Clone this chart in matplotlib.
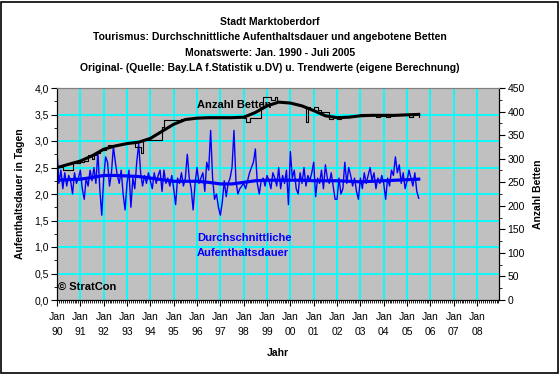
import numpy as np
import matplotlib
matplotlib.use("Agg")
import matplotlib.pyplot as plt
from matplotlib.ticker import MultipleLocator, FuncFormatter
from matplotlib.patches import Rectangle

plt.rcParams['font.family'] = ['Liberation Sans', 'DejaVu Sans']

# Monatswerte Jan. 1990 - Juli 2005
start_year = 1990
dauer = [
    2.80, 2.20, 2.45, 2.10, 2.40, 2.15, 2.35, 2.25, 2.00, 2.40, 2.20, 2.30,  # 1990
    2.45, 2.10, 1.90, 2.30, 2.15, 2.45, 2.25, 2.50, 2.20, 2.80, 2.10, 1.60,  # 1991
    2.30, 2.70, 2.60, 2.15, 2.40, 2.90, 2.60, 2.35, 2.20, 2.45, 2.00, 1.70,  # 1992
    2.20, 2.45, 1.75, 2.30, 2.10, 2.60, 2.95, 2.40, 2.15, 2.35, 2.20, 2.40,  # 1993
    2.25, 2.10, 2.40, 2.20, 2.35, 2.45, 2.05, 2.45, 2.20, 2.30, 2.15, 2.35,  # 1994
    2.10, 1.80, 2.30, 2.20, 2.40, 2.15, 2.30, 2.75, 2.30, 2.10, 1.70, 2.20,  # 1995
    2.50, 2.20, 2.30, 2.40, 2.05, 2.60, 2.45, 3.20, 2.30, 1.90, 2.00, 1.75,  # 1996
    1.60, 1.85, 2.25, 1.95, 2.20, 2.30, 2.50, 3.20, 2.25, 2.00, 2.10, 2.15,  # 1997
    2.20, 2.10, 2.25, 2.40, 2.50, 2.60, 2.85, 2.20, 2.00, 2.25, 2.30, 2.15,  # 1998
    2.35, 2.25, 2.10, 2.40, 2.30, 2.15, 2.50, 2.10, 2.35, 2.20, 2.45, 1.80,  # 1999
    2.80, 2.30, 2.45, 2.10, 2.00, 2.40, 2.20, 2.50, 2.15, 2.35, 2.25, 2.40,  # 2000
    2.60, 1.95, 2.30, 2.20, 2.45, 2.10, 2.55, 2.30, 2.20, 2.40, 2.15, 1.90,  # 2001
    1.90, 2.30, 2.00, 2.10, 2.60, 2.20, 2.50, 2.35, 2.15, 2.30, 2.05, 1.90,  # 2002
    2.30, 2.10, 2.40, 2.20, 2.35, 2.50, 2.25, 2.40, 2.10, 2.30, 2.20, 2.35,  # 2003
    2.20, 1.90, 2.30, 2.15, 2.45, 2.35, 2.70, 2.40, 2.55, 2.20, 2.40, 2.10,  # 2004
    2.25, 2.45, 2.30, 2.15, 2.40, 2.05, 1.92,                                # 2005
]
betten = [
    282, 282, 282, 276, 276, 276, 276, 276, 290, 290, 290, 290,  # 1990
    293, 293, 296, 296, 308, 308, 300, 308, 312, 312, 318, 318,  # 1991
    318, 322, 329, 329, 329, 329, 329, 329, 332, 332, 332, 332,  # 1992
    335, 335, 335, 335, 325, 325, 325, 311, 340, 340, 340, 340,  # 1993
    340, 340, 340, 340, 340, 340, 368, 382, 382, 382, 382, 382,  # 1994
    382, 382, 382, 382, 384, 384, 386, 386, 386, 386, 386, 386,  # 1995
    386, 386, 386, 386, 386, 386, 386, 386, 386, 386, 386, 386,  # 1996
    386, 386, 386, 386, 386, 386, 388, 388, 388, 388, 388, 388,  # 1997
    386, 378, 378, 386, 386, 386, 386, 386, 386, 407, 431, 431,  # 1998
    431, 431, 425, 425, 431, 420, 420, 420, 420, 420, 420, 420,  # 1999
    418, 418, 416, 416, 414, 412, 412, 410, 378, 410, 404, 404,  # 2000
    410, 410, 404, 404, 400, 400, 400, 400, 384, 384, 388, 388,  # 2001
    384, 384, 386, 390, 390, 390, 390, 390, 390, 392, 392, 392,  # 2002
    394, 394, 394, 394, 392, 392, 392, 392, 388, 388, 390, 390,  # 2003
    390, 388, 388, 390, 390, 392, 392, 392, 394, 394, 394, 394,  # 2004
    394, 388, 388, 392, 394, 394, 388,                           # 2005
]

trend_jahre = [1990.0 + 0.5 * k for k in range(32)]
betten_trend = [281, 288, 295, 306, 320, 327, 332, 335, 343, 358, 373, 383,
                386, 387, 387, 387, 388, 398, 412, 420, 418, 412, 402, 391,
                387, 388, 391, 392, 392, 392, 393, 394]
dauer_trend = [2.26, 2.27, 2.28, 2.31, 2.35, 2.35, 2.34, 2.33, 2.30, 2.27, 2.24, 2.24,
               2.24, 2.22, 2.19, 2.19, 2.22, 2.25, 2.26, 2.26, 2.26, 2.26, 2.25, 2.25,
               2.25, 2.24, 2.23, 2.24, 2.25, 2.26, 2.27, 2.28]

jahre = list(range(1990, 2009))
jahr_labels = ["Jan\n%02d" % (j % 100) for j in jahre]

x = start_year + np.arange(len(dauer)) / 12.0

fig = plt.figure(figsize=(5.6, 3.74), dpi=100)
ax = fig.add_axes([57/560, 1 - 300/374, 442/560, 212/374])
ax.set_facecolor('#c0c0c0')
ax2 = ax.twinx()

# grid
for j in jahre:
    ax.axvline(j, color='#00ffff', lw=1.3, zorder=1)
for v in np.arange(0.5, 4.0, 0.5):
    ax.axhline(v, color='#00ffff', lw=1.3, zorder=1)

ax.plot(x, dauer, color='#0000ff', lw=1.0, zorder=3)
ax.plot(trend_jahre, dauer_trend, color='#0000ff', lw=2.3, zorder=4)

ax2.plot(x, betten, color='black', lw=0.8, drawstyle='steps-post', zorder=3)
ax2.plot(trend_jahre, betten_trend, color='black', lw=2.2, zorder=4)

ax.set_xlim(1990, 2008.94)
ax.set_ylim(0, 4)
ax2.set_ylim(0, 450)

ax.yaxis.set_major_locator(MultipleLocator(0.5))
ax.yaxis.set_minor_locator(MultipleLocator(0.25))
ax.yaxis.set_major_formatter(FuncFormatter(lambda v, p: ("%.1f" % v).replace('.', ',')))
ax2.yaxis.set_major_locator(MultipleLocator(50))
ax2.yaxis.set_minor_locator(MultipleLocator(25))
ax.set_xticks(jahre)
ax.set_xticklabels(jahr_labels)
ax.xaxis.set_minor_locator(MultipleLocator(1/12))

for a in (ax, ax2):
    a.tick_params(which='major', direction='out', length=4, width=0.8, labelsize=7.5, pad=2)
    a.tick_params(which='minor', direction='out', length=2, width=0.6)
    for s in a.spines.values():
        s.set_linewidth(0.8)
    a.spines['top'].set_color('#808080')
ax.tick_params(axis='x', which='major', pad=5)
for t in ax.get_xticklabels():
    t.set_linespacing(1.55)

ax.text(1996.0, 3.68, "Anzahl Betten", fontsize=8, fontweight='bold', color='black',
        va='center', ha='left', zorder=6)
ax.text(1996.0, 1.03, "Durchschnittliche\nAufenthaltsdauer", fontsize=8, fontweight='bold',
        color='#0000ff', va='center', ha='left', linespacing=1.6, zorder=6)
ax.text(1990.05, 0.24, "\u00a9 StratCon", fontsize=8, fontweight='bold', color='black',
        va='center', ha='left', zorder=6)

titel = ["Stadt Marktoberdorf",
         "Tourismus: Durchschnittliche Aufenthaltsdauer und angebotene Betten",
         "Monatswerte: Jan. 1990 - Juli 2005",
         "Original- (Quelle: Bay.LA f.Statistik u.DV) u. Trendwerte (eigene Berechnung)"]
for i, t in enumerate(titel):
    fig.text(270/560, 1 - (22 + 15.3 * i)/374, t, fontsize=7.5, fontweight='bold',
             ha='center', va='center')

fig.text(20/560, 1 - 194/374, "Aufenthaltsdauer in Tagen", rotation=90, fontsize=7.5,
         fontweight='bold', ha='center', va='center')
fig.text(538/560, 1 - 194/374, "Anzahl Betten", rotation=90, fontsize=7.5,
         fontweight='bold', ha='center', va='center')
fig.text(278/560, 1 - 353/374, "Jahr", fontsize=7.5, fontweight='bold', ha='center', va='center')

fig.patches.append(Rectangle((1/560, 1/374), 557/560, 371/374, transform=fig.transFigure,
                             fill=False, edgecolor='black', lw=1.2))

fig.savefig("out.png", dpi=100)
